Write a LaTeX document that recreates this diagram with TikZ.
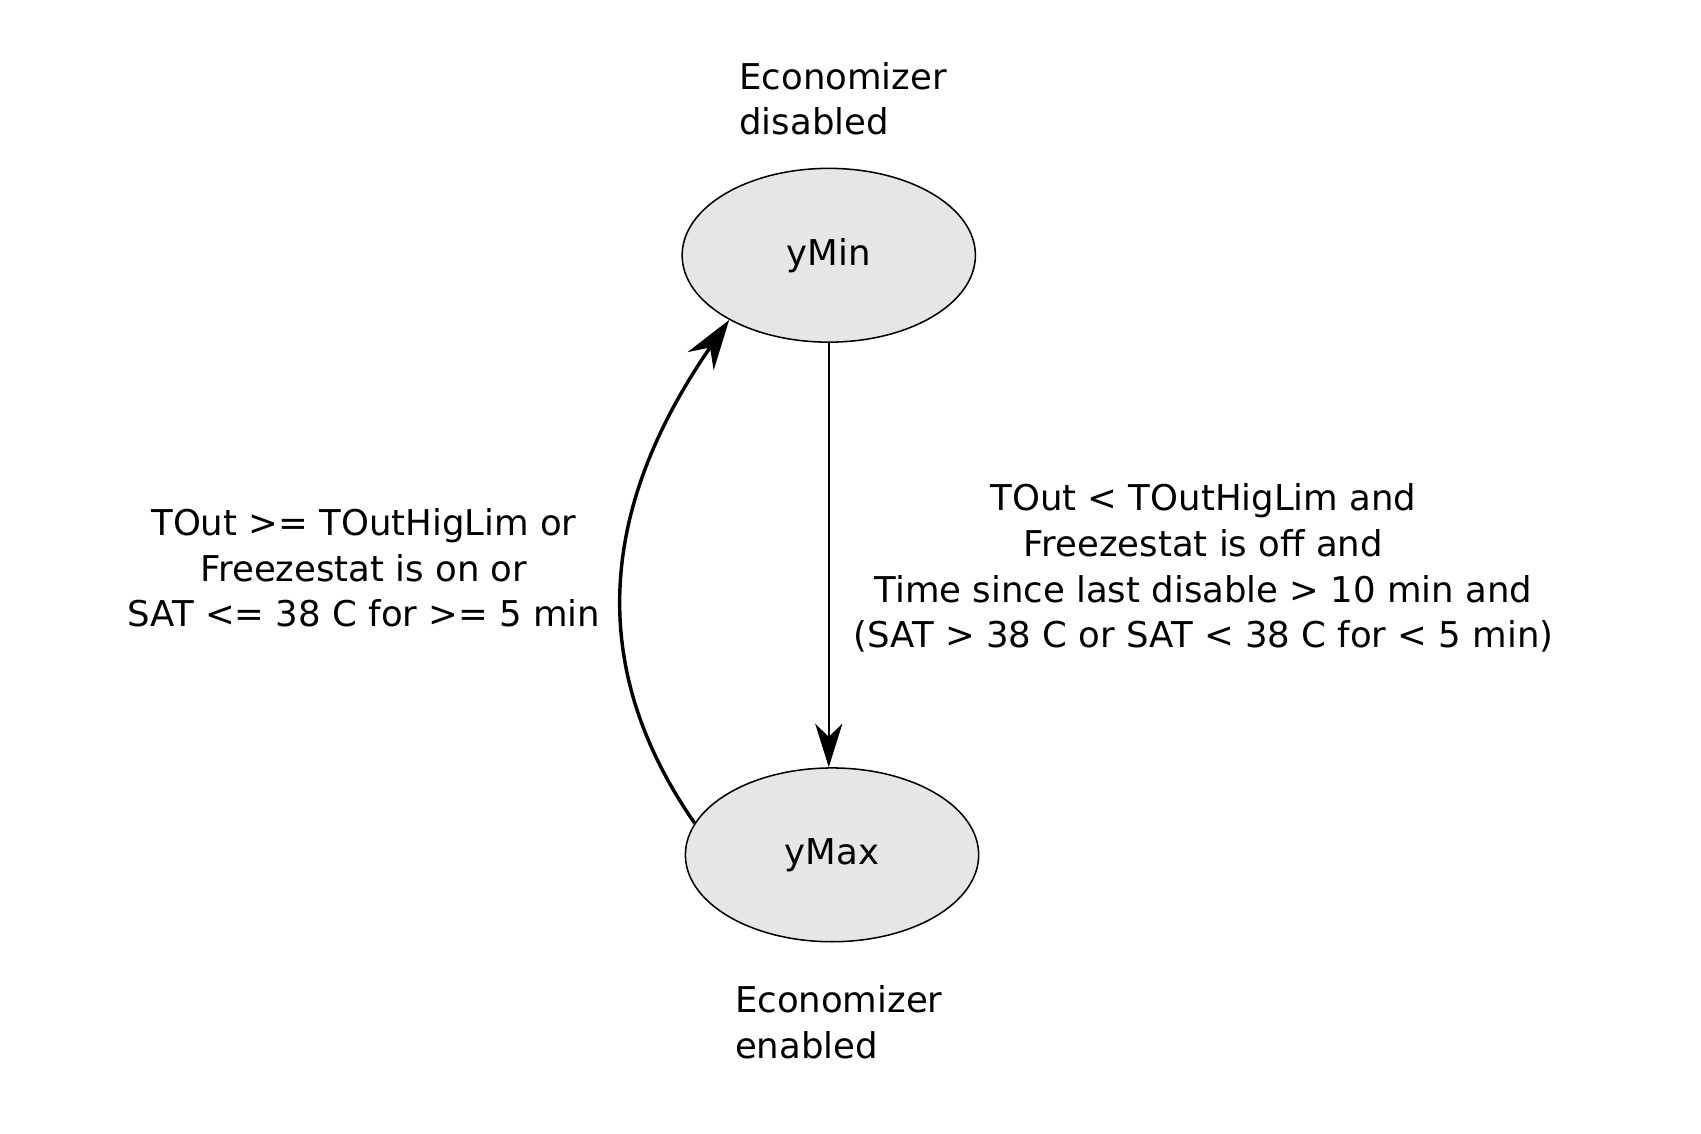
\documentclass[tikz,border=0pt]{standalone}
\usepackage{fontspec}
\setmainfont{DejaVu Sans}
\usetikzlibrary{arrows.meta,shapes.geometric}
\definecolor{stategray}{HTML}{E6E6E6}
\begin{document}
\begin{tikzpicture}[
    state/.style={ellipse, draw, line width=0.4pt, fill=stategray,
      minimum width=2.7cm, minimum height=1.6cm, inner sep=0pt},
    note/.style={align=left, anchor=west, inner sep=0pt},
    cond/.style={align=center, inner sep=0pt},
    font=\fontsize{9.3}{11.95}\selectfont]
  \useasboundingbox (0,0) rectangle (15.66,10.44);
  \draw
    (7.63,8.09) node[state] (yMin){yMin}
    (7.66,2.57) node[state] (yMax){yMax}
    (6.80,9.53) node[note] (disabled){Economizer\\disabled}
    (6.76,1.03) node[note] (enabled){Economizer\\enabled}
    (3.35,5.21) node[cond] (toMin){TOut >= TOutHigLim or\\Freezestat is on or\\SAT <= 38 C for >= 5 min}
    (11.08,5.21) node[cond] (toMax){TOut < TOutHigLim and\\Freezestat is off and\\Time since last disable > 10 min and\\(SAT > 38 C or SAT < 38 C for < 5 min)};
  \begin{scope}[-]
    \draw[line width=0.5pt, -{Stealth[length=4mm, width=2.5mm, inset=1.2mm]}]
      (yMin.south) to (yMin.south |- yMax.north);
    \draw[line width=0.9pt, -{Stealth[length=4.6mm, width=2.9mm, inset=1.5mm]}]
      (yMax.167) .. controls (5.50,4.15) and (5.40,5.60) .. (yMin.213);
  \end{scope}
\end{tikzpicture}
\end{document}
